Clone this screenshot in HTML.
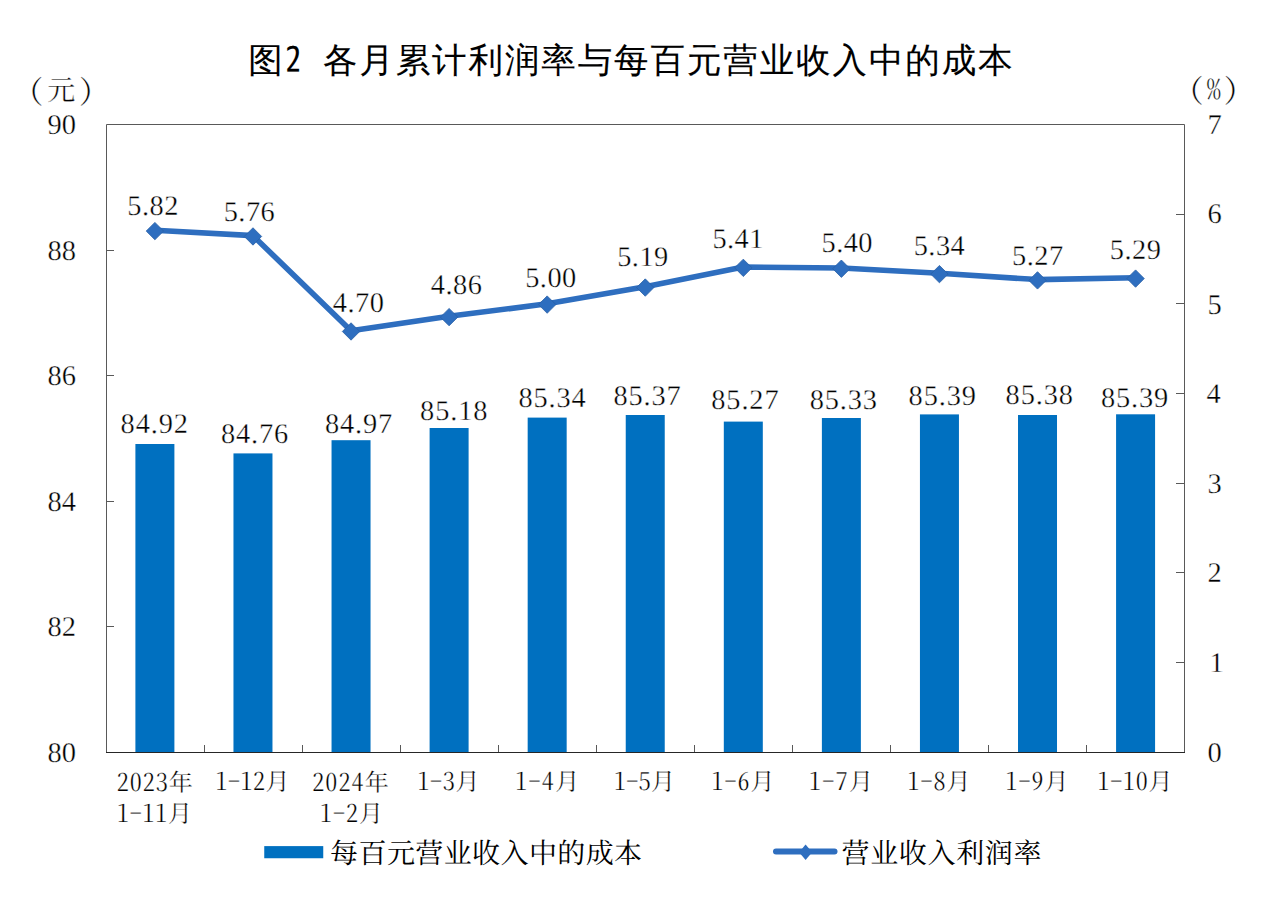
<!DOCTYPE html><html><head><meta charset="utf-8"><title>图2 各月累计利润率与每百元营业收入中的成本</title>
<style>html,body{margin:0;padding:0;background:#fff;overflow:hidden;}svg{display:block;}text{fill:#000;text-rendering:geometricPrecision;}</style></head><body>
<svg width="1280" height="905" viewBox="0 0 1280 905">
<rect width="1280" height="905" fill="#fff"/>
<rect x="135.40" y="444.00" width="39.0" height="308.00" fill="#0070C0"/>
<rect x="233.47" y="453.40" width="39.0" height="298.60" fill="#0070C0"/>
<rect x="331.54" y="440.20" width="39.0" height="311.80" fill="#0070C0"/>
<rect x="429.60" y="428.00" width="39.0" height="324.00" fill="#0070C0"/>
<rect x="527.67" y="417.60" width="39.0" height="334.40" fill="#0070C0"/>
<rect x="625.74" y="415.00" width="39.0" height="337.00" fill="#0070C0"/>
<rect x="723.81" y="421.60" width="39.0" height="330.40" fill="#0070C0"/>
<rect x="821.88" y="418.00" width="39.0" height="334.00" fill="#0070C0"/>
<rect x="919.94" y="414.40" width="39.0" height="337.60" fill="#0070C0"/>
<rect x="1018.01" y="415.00" width="39.0" height="337.00" fill="#0070C0"/>
<rect x="1116.08" y="414.30" width="39.0" height="337.70" fill="#0070C0"/>
<path d="M106.5 752.0V124.5H1184.5V752.0" fill="none" stroke="#595959" stroke-width="1"/>
<path d="M106.0 752.5H1185.0" fill="none" stroke="#262626" stroke-width="1.1"/>
<path d="M106.5 250.50h7.5M106.5 375.50h7.5M106.5 501.50h7.5M106.5 626.50h7.5M1184.5 662.50h-8.5M1184.5 572.50h-8.5M1184.5 483.50h-8.5M1184.5 393.50h-8.5M1184.5 303.50h-8.5M1184.5 214.50h-8.5M204.50 752.0v-7M302.50 752.0v-7M400.50 752.0v-7M498.50 752.0v-7M596.50 752.0v-7M694.50 752.0v-7M792.50 752.0v-7M890.50 752.0v-7M988.50 752.0v-7M1086.50 752.0v-7" stroke="#595959" stroke-width="1" fill="none"/>
<polyline points="154.90,230.28 252.97,235.66 351.04,330.68 449.10,316.34 547.17,303.79 645.24,286.75 743.31,267.03 841.38,267.93 939.44,273.31 1037.51,279.58 1135.58,277.79" fill="none" stroke="#2E6EBF" stroke-width="5.6" stroke-linejoin="round"/>
<path d="M154.90 222.38L163.60 231.08L154.90 239.78L146.20 231.08Z" fill="#2E6EBF" stroke="#285FA6" stroke-width="0.8" stroke-linejoin="miter"/>
<path d="M252.97 227.76L261.67 236.46L252.97 245.16L244.27 236.46Z" fill="#2E6EBF" stroke="#285FA6" stroke-width="0.8" stroke-linejoin="miter"/>
<path d="M351.04 322.78L359.74 331.48L351.04 340.18L342.34 331.48Z" fill="#2E6EBF" stroke="#285FA6" stroke-width="0.8" stroke-linejoin="miter"/>
<path d="M449.10 308.44L457.80 317.14L449.10 325.84L440.40 317.14Z" fill="#2E6EBF" stroke="#285FA6" stroke-width="0.8" stroke-linejoin="miter"/>
<path d="M547.17 295.89L555.87 304.59L547.17 313.29L538.47 304.59Z" fill="#2E6EBF" stroke="#285FA6" stroke-width="0.8" stroke-linejoin="miter"/>
<path d="M645.24 278.85L653.94 287.55L645.24 296.25L636.54 287.55Z" fill="#2E6EBF" stroke="#285FA6" stroke-width="0.8" stroke-linejoin="miter"/>
<path d="M743.31 259.13L752.01 267.83L743.31 276.53L734.61 267.83Z" fill="#2E6EBF" stroke="#285FA6" stroke-width="0.8" stroke-linejoin="miter"/>
<path d="M841.38 260.03L850.08 268.73L841.38 277.43L832.68 268.73Z" fill="#2E6EBF" stroke="#285FA6" stroke-width="0.8" stroke-linejoin="miter"/>
<path d="M939.44 265.41L948.14 274.11L939.44 282.81L930.74 274.11Z" fill="#2E6EBF" stroke="#285FA6" stroke-width="0.8" stroke-linejoin="miter"/>
<path d="M1037.51 271.68L1046.21 280.38L1037.51 289.08L1028.81 280.38Z" fill="#2E6EBF" stroke="#285FA6" stroke-width="0.8" stroke-linejoin="miter"/>
<path d="M1135.58 269.89L1144.28 278.59L1135.58 287.29L1126.88 278.59Z" fill="#2E6EBF" stroke="#285FA6" stroke-width="0.8" stroke-linejoin="miter"/>
<rect x="264.25" y="846.1" width="59" height="12.15" fill="#0070C0"/>
<line x1="776" y1="851.5" x2="834.5" y2="851.5" stroke="#2E6EBF" stroke-width="6" stroke-linecap="round"/>
<path d="M805.6 844.5L812.1 852.2L805.6 859.9L799.1 852.2Z" fill="#2E6EBF"/>
<text id="title" x="248.20" y="72.40" style='font-family:"WenQuanYi Zen Hei Mono", "WenQuanYi Zen Hei", "Noto Sans CJK SC", sans-serif;font-size:34.50px;letter-spacing:1.90px;white-space:pre;stroke:#000;stroke-width:0.12px'>图2 各月累计利润率与每百元营业收入中的成本</text>
<text id="uL" x="28.80" y="99.85" style='font-family:"Noto Serif CJK SC", "Liberation Serif", serif;font-size:28.00px;letter-spacing:4.35px;font-feature-settings:"hwid";stroke:#fff;stroke-width:0.3px'>（元）</text>
<text id="uR" x="1189.00" y="99.10" style='font-family:"Noto Serif CJK SC", "Liberation Serif", serif;font-size:28.00px;letter-spacing:3.65px;font-feature-settings:"hwid";stroke:#fff;stroke-width:0.3px'>（%）</text>
<text id="yl0" x="47.40" y="134.40" style='font-family:"Liberation Serif", "Noto Serif CJK SC", serif;font-size:28.50px;stroke:#fff;stroke-width:0.35px'>90</text>
<text id="yl1" x="47.40" y="259.90" style='font-family:"Liberation Serif", "Noto Serif CJK SC", serif;font-size:28.50px;stroke:#fff;stroke-width:0.35px'>88</text>
<text id="yl2" x="47.40" y="385.40" style='font-family:"Liberation Serif", "Noto Serif CJK SC", serif;font-size:28.50px;stroke:#fff;stroke-width:0.35px'>86</text>
<text id="yl3" x="47.40" y="510.90" style='font-family:"Liberation Serif", "Noto Serif CJK SC", serif;font-size:28.50px;stroke:#fff;stroke-width:0.35px'>84</text>
<text id="yl4" x="47.40" y="636.40" style='font-family:"Liberation Serif", "Noto Serif CJK SC", serif;font-size:28.50px;stroke:#fff;stroke-width:0.35px'>82</text>
<text id="yl5" x="47.40" y="761.90" style='font-family:"Liberation Serif", "Noto Serif CJK SC", serif;font-size:28.50px;stroke:#fff;stroke-width:0.35px'>80</text>
<text id="yr0" x="1207.60" y="761.90" style='font-family:"Liberation Serif", "Noto Serif CJK SC", serif;font-size:28.50px;stroke:#fff;stroke-width:0.35px'>0</text>
<text id="yr1" x="1209.60" y="671.83" style='font-family:"Liberation Serif", "Noto Serif CJK SC", serif;font-size:28.50px;stroke:#fff;stroke-width:0.35px'>1</text>
<text id="yr2" x="1207.60" y="581.76" style='font-family:"Liberation Serif", "Noto Serif CJK SC", serif;font-size:28.50px;stroke:#fff;stroke-width:0.35px'>2</text>
<text id="yr3" x="1207.60" y="492.69" style='font-family:"Liberation Serif", "Noto Serif CJK SC", serif;font-size:28.50px;stroke:#fff;stroke-width:0.35px'>3</text>
<text id="yr4" x="1206.60" y="402.61" style='font-family:"Liberation Serif", "Noto Serif CJK SC", serif;font-size:28.50px;stroke:#fff;stroke-width:0.35px'>4</text>
<text id="yr5" x="1207.60" y="313.54" style='font-family:"Liberation Serif", "Noto Serif CJK SC", serif;font-size:28.50px;stroke:#fff;stroke-width:0.35px'>5</text>
<text id="yr6" x="1207.60" y="223.47" style='font-family:"Liberation Serif", "Noto Serif CJK SC", serif;font-size:28.50px;stroke:#fff;stroke-width:0.35px'>6</text>
<text id="yr7" x="1207.60" y="134.40" style='font-family:"Liberation Serif", "Noto Serif CJK SC", serif;font-size:28.50px;stroke:#fff;stroke-width:0.35px'>7</text>
<text id="bl0" x="120.60" y="433.20" style='font-family:"Liberation Serif", "Noto Serif CJK SC", serif;font-size:28.40px;letter-spacing:0.85px;stroke:#fff;stroke-width:0.35px'>84.92</text>
<text id="bl1" x="220.90" y="443.30" style='font-family:"Liberation Serif", "Noto Serif CJK SC", serif;font-size:28.40px;letter-spacing:0.85px;stroke:#fff;stroke-width:0.35px'>84.76</text>
<text id="bl2" x="325.00" y="433.30" style='font-family:"Liberation Serif", "Noto Serif CJK SC", serif;font-size:28.40px;letter-spacing:0.85px;stroke:#fff;stroke-width:0.35px'>84.97</text>
<text id="bl3" x="420.10" y="419.90" style='font-family:"Liberation Serif", "Noto Serif CJK SC", serif;font-size:28.40px;letter-spacing:0.85px;stroke:#fff;stroke-width:0.35px'>85.18</text>
<text id="bl4" x="518.40" y="406.90" style='font-family:"Liberation Serif", "Noto Serif CJK SC", serif;font-size:28.40px;letter-spacing:0.85px;stroke:#fff;stroke-width:0.35px'>85.34</text>
<text id="bl5" x="613.40" y="405.20" style='font-family:"Liberation Serif", "Noto Serif CJK SC", serif;font-size:28.40px;letter-spacing:0.85px;stroke:#fff;stroke-width:0.35px'>85.37</text>
<text id="bl6" x="711.30" y="408.50" style='font-family:"Liberation Serif", "Noto Serif CJK SC", serif;font-size:28.40px;letter-spacing:0.85px;stroke:#fff;stroke-width:0.35px'>85.27</text>
<text id="bl7" x="809.70" y="408.50" style='font-family:"Liberation Serif", "Noto Serif CJK SC", serif;font-size:28.40px;letter-spacing:0.85px;stroke:#fff;stroke-width:0.35px'>85.33</text>
<text id="bl8" x="908.60" y="405.20" style='font-family:"Liberation Serif", "Noto Serif CJK SC", serif;font-size:28.40px;letter-spacing:0.85px;stroke:#fff;stroke-width:0.35px'>85.39</text>
<text id="bl9" x="1005.60" y="403.90" style='font-family:"Liberation Serif", "Noto Serif CJK SC", serif;font-size:28.40px;letter-spacing:0.85px;stroke:#fff;stroke-width:0.35px'>85.38</text>
<text id="bl10" x="1101.00" y="406.60" style='font-family:"Liberation Serif", "Noto Serif CJK SC", serif;font-size:28.40px;letter-spacing:0.85px;stroke:#fff;stroke-width:0.35px'>85.39</text>
<text id="ll0" x="127.30" y="214.70" style='font-family:"Liberation Serif", "Noto Serif CJK SC", serif;font-size:28.40px;letter-spacing:0.45px;stroke:#fff;stroke-width:0.35px'>5.82</text>
<text id="ll1" x="223.70" y="220.90" style='font-family:"Liberation Serif", "Noto Serif CJK SC", serif;font-size:28.40px;letter-spacing:0.45px;stroke:#fff;stroke-width:0.35px'>5.76</text>
<text id="ll2" x="332.80" y="312.00" style='font-family:"Liberation Serif", "Noto Serif CJK SC", serif;font-size:28.40px;letter-spacing:0.45px;stroke:#fff;stroke-width:0.35px'>4.70</text>
<text id="ll3" x="430.80" y="293.80" style='font-family:"Liberation Serif", "Noto Serif CJK SC", serif;font-size:28.40px;letter-spacing:0.45px;stroke:#fff;stroke-width:0.35px'>4.86</text>
<text id="ll4" x="525.20" y="286.80" style='font-family:"Liberation Serif", "Noto Serif CJK SC", serif;font-size:28.40px;letter-spacing:0.45px;stroke:#fff;stroke-width:0.35px'>5.00</text>
<text id="ll5" x="617.20" y="265.70" style='font-family:"Liberation Serif", "Noto Serif CJK SC", serif;font-size:28.40px;letter-spacing:0.45px;stroke:#fff;stroke-width:0.35px'>5.19</text>
<text id="ll6" x="712.40" y="248.10" style='font-family:"Liberation Serif", "Noto Serif CJK SC", serif;font-size:28.40px;letter-spacing:0.45px;stroke:#fff;stroke-width:0.35px'>5.41</text>
<text id="ll7" x="821.50" y="251.60" style='font-family:"Liberation Serif", "Noto Serif CJK SC", serif;font-size:28.40px;letter-spacing:0.45px;stroke:#fff;stroke-width:0.35px'>5.40</text>
<text id="ll8" x="913.70" y="255.00" style='font-family:"Liberation Serif", "Noto Serif CJK SC", serif;font-size:28.40px;letter-spacing:0.45px;stroke:#fff;stroke-width:0.35px'>5.34</text>
<text id="ll9" x="1012.10" y="265.00" style='font-family:"Liberation Serif", "Noto Serif CJK SC", serif;font-size:28.40px;letter-spacing:0.45px;stroke:#fff;stroke-width:0.35px'>5.27</text>
<text id="ll10" x="1109.80" y="258.50" style='font-family:"Liberation Serif", "Noto Serif CJK SC", serif;font-size:28.40px;letter-spacing:0.45px;stroke:#fff;stroke-width:0.35px'>5.29</text>
<text id="xa0" x="116.70" y="791.40" style='font-family:"Noto Serif CJK SC", "Liberation Serif", serif;font-size:24.00px;letter-spacing:1.00px;font-feature-settings:"hwid";stroke:#fff;stroke-width:0.2px'>2023年</text>
<text id="xa1" x="215.50" y="790.40" style='font-family:"Noto Serif CJK SC", "Liberation Serif", serif;font-size:24.00px;letter-spacing:0.50px;font-feature-settings:"hwid";stroke:#fff;stroke-width:0.2px'>1-12月</text>
<text id="xa2" x="312.25" y="791.40" style='font-family:"Noto Serif CJK SC", "Liberation Serif", serif;font-size:24.00px;letter-spacing:1.12px;font-feature-settings:"hwid";stroke:#fff;stroke-width:0.2px'>2024年</text>
<text id="xa3" x="417.40" y="790.40" style='font-family:"Noto Serif CJK SC", "Liberation Serif", serif;font-size:24.00px;letter-spacing:0.67px;font-feature-settings:"hwid";stroke:#fff;stroke-width:0.2px'>1-3月</text>
<text id="xa4" x="515.20" y="790.40" style='font-family:"Noto Serif CJK SC", "Liberation Serif", serif;font-size:24.00px;letter-spacing:1.33px;font-feature-settings:"hwid";stroke:#fff;stroke-width:0.2px'>1-4月</text>
<text id="xa5" x="614.00" y="790.40" style='font-family:"Noto Serif CJK SC", "Liberation Serif", serif;font-size:24.00px;letter-spacing:0.33px;font-feature-settings:"hwid";stroke:#fff;stroke-width:0.2px'>1-5月</text>
<text id="xa6" x="711.40" y="790.40" style='font-family:"Noto Serif CJK SC", "Liberation Serif", serif;font-size:24.00px;letter-spacing:1.00px;font-feature-settings:"hwid";stroke:#fff;stroke-width:0.2px'>1-6月</text>
<text id="xa7" x="808.90" y="790.40" style='font-family:"Noto Serif CJK SC", "Liberation Serif", serif;font-size:24.00px;letter-spacing:1.33px;font-feature-settings:"hwid";stroke:#fff;stroke-width:0.2px'>1-7月</text>
<text id="xa8" x="907.50" y="790.40" style='font-family:"Noto Serif CJK SC", "Liberation Serif", serif;font-size:24.00px;letter-spacing:1.00px;font-feature-settings:"hwid";stroke:#fff;stroke-width:0.2px'>1-8月</text>
<text id="xa9" x="1005.50" y="790.40" style='font-family:"Noto Serif CJK SC", "Liberation Serif", serif;font-size:24.00px;letter-spacing:1.00px;font-feature-settings:"hwid";stroke:#fff;stroke-width:0.2px'>1-9月</text>
<text id="xa10" x="1097.50" y="790.40" style='font-family:"Noto Serif CJK SC", "Liberation Serif", serif;font-size:24.00px;letter-spacing:0.75px;font-feature-settings:"hwid";stroke:#fff;stroke-width:0.2px'>1-10月</text>
<text id="xb0" x="117.00" y="822.40" style='font-family:"Noto Serif CJK SC", "Liberation Serif", serif;font-size:24.00px;letter-spacing:0.75px;font-feature-settings:"hwid";stroke:#fff;stroke-width:0.2px'>1-11月</text>
<text id="xb2" x="319.90" y="822.40" style='font-family:"Noto Serif CJK SC", "Liberation Serif", serif;font-size:24.00px;letter-spacing:1.00px;font-feature-settings:"hwid";stroke:#fff;stroke-width:0.2px'>1-2月</text>
<text id="lg1" x="330.10" y="862.80" style='font-family:"Noto Serif CJK SC", "Liberation Serif", serif;font-size:28.00px;letter-spacing:0.40px'>每百元营业收入中的成本</text>
<text id="lg2" x="841.50" y="863.30" style='font-family:"Noto Serif CJK SC", "Liberation Serif", serif;font-size:28.00px;letter-spacing:0.67px'>营业收入利润率</text>
</svg></body></html>
